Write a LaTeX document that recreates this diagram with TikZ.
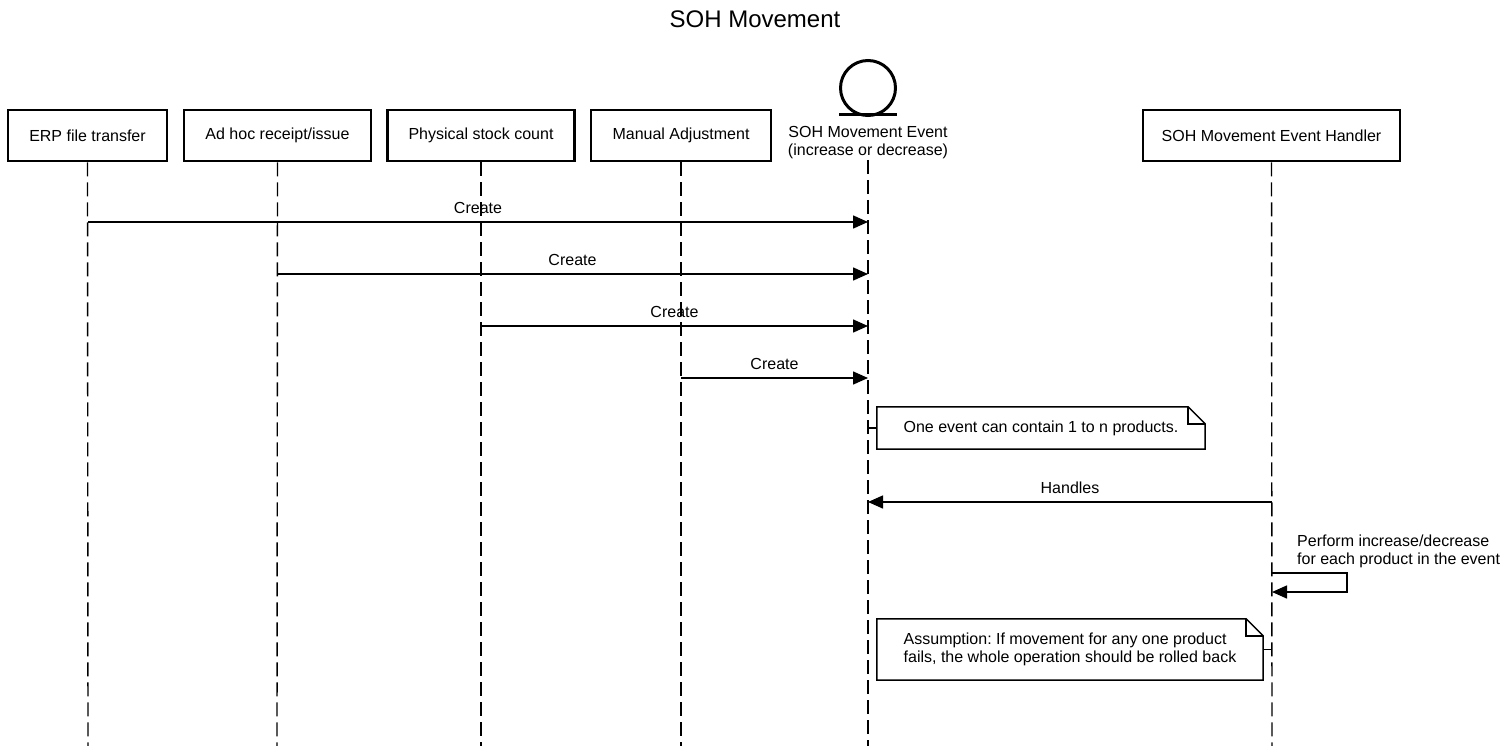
\documentclass[tikz,border=0pt]{standalone}
\usepackage{fontspec}
\setmainfont{Liberation Sans}
\usetikzlibrary{arrows.meta,calc}
\frenchspacing
\begin{document}
\begin{tikzpicture}[x=1pt,y=-1pt,
  every node/.style={font=\fontsize{16}{18.5}\selectfont},
  actor/.style={draw,line width=2.8pt,minimum height=51pt,inner sep=0pt},
  life/.style={line width=1.4pt,dash pattern=on 14pt off 6pt},
  msg/.style={line width=1.5pt,-{Triangle[length=15pt,width=13pt]}},
  lbl/.style={midway,anchor=base,yshift=9pt,inner sep=0pt},
  notebox/.style={inner sep=0pt},
  noteline/.style={line width=1.5pt},
]
\useasboundingbox (0,0) rectangle (1509,746);
\fill[white] (0,0) rectangle (1509,746);

\node[font=\fontsize{24}{28}\selectfont] (title) at (755,19) {SOH Movement};

% actors
\node[actor,minimum width=159pt] (erp) at (87.5,135.5) {ERP file transfer};
\node[actor,minimum width=187pt] (adhoc) at (277.5,135.5) {Ad hoc receipt/issue};
\node[actor,minimum width=187pt] (phys) at (481,135.5) {Physical stock count};
\node[actor,minimum width=180pt] (man) at (681,135.5) {Manual Adjustment};
\node[actor,minimum width=257pt] (hand) at (1271.5,135.5) {SOH Movement Event Handler};

% entity
\node[draw,circle,line width=3pt,minimum size=55pt,inner sep=0pt] (ent) at (868,88) {};
\coordinate (ulL) at (839,115);
\coordinate (ulR) at (897,115);
\draw[line width=3pt] (ulL) -- (ulR);
\node[align=center,inner sep=0pt] (entlbl) at (868,142.5) {SOH Movement Event\\(increase or decrease)};

% lifeline ends
\coordinate (erpE) at (88,746);
\coordinate (adhocE) at (277,746);
\coordinate (physE) at (481,746);
\coordinate (manE) at (681,746);
\coordinate (entS) at (868,160);
\coordinate (entE) at (868,746);
\coordinate (handE) at (1272,746);

\draw[life] (erp.south) -- (erpE);
\draw[life] (adhoc.south) -- (adhocE);
\draw[life] (phys.south) -- (physE);
\draw[life] (man.south) -- (manE);
\draw[life] (entS) -- (entE);
\draw[life] (hand.south) -- (handE);

% messages
\coordinate (m1a) at (88,222);  \coordinate (m1b) at (868,222);
\coordinate (m2a) at (277,274); \coordinate (m2b) at (868,274);
\coordinate (m3a) at (481,326); \coordinate (m3b) at (868,326);
\coordinate (m4a) at (681,378); \coordinate (m4b) at (868,378);
\coordinate (m5a) at (1272,502); \coordinate (m5b) at (868,502);

\draw[msg] (m1a) -- node[lbl]{Create} (m1b);
\draw[msg] (m2a) -- node[lbl]{Create} (m2b);
\draw[msg] (m3a) -- node[lbl]{Create} (m3b);
\draw[msg] (m4a) -- node[lbl]{Create} (m4b);
\draw[msg] (m5a) -- node[lbl]{Handles} (m5b);

% note 1
\node[notebox,minimum width=328pt,minimum height=42pt] (n1) at (1041,428) {One event can contain 1 to n products.};
\draw[noteline] (n1.north west) -- ($(n1.north east)+(-17,0)$) -- ($(n1.north east)+(0,17)$) -- (n1.south east) -- (n1.south west) -- cycle;
\draw[noteline] ($(n1.north east)+(-17,0)$) -- ($(n1.north east)+(-17,17)$) -- ($(n1.north east)+(0,17)$);
\coordinate (n1c) at (868,428);
\draw[noteline] (n1c) -- (n1.west);

% self message
\coordinate (s1) at (1272,573);
\coordinate (s2) at (1347,573);
\coordinate (s3) at (1347,592);
\coordinate (s4) at (1272,592);
\draw[msg] (s1) -- (s2) -- (s3) -- (s4);
\node[align=left,anchor=west,inner sep=0pt] (selflbl) at (1297,551.5) {Perform increase/decrease\\for each product in the event};

% note 2
\node[notebox,minimum width=386pt,minimum height=61pt,align=left] (n2) at (1070,649.5) {Assumption: If movement for any one product\\fails, the whole operation should be rolled back};
\draw[noteline] (n2.north west) -- ($(n2.north east)+(-17,0)$) -- ($(n2.north east)+(0,17)$) -- (n2.south east) -- (n2.south west) -- cycle;
\draw[noteline] ($(n2.north east)+(-17,0)$) -- ($(n2.north east)+(-17,17)$) -- ($(n2.north east)+(0,17)$);
\coordinate (n2c) at (1272,649.5);
\draw[noteline] (n2.east) -- (n2c);
\end{tikzpicture}
\end{document}
